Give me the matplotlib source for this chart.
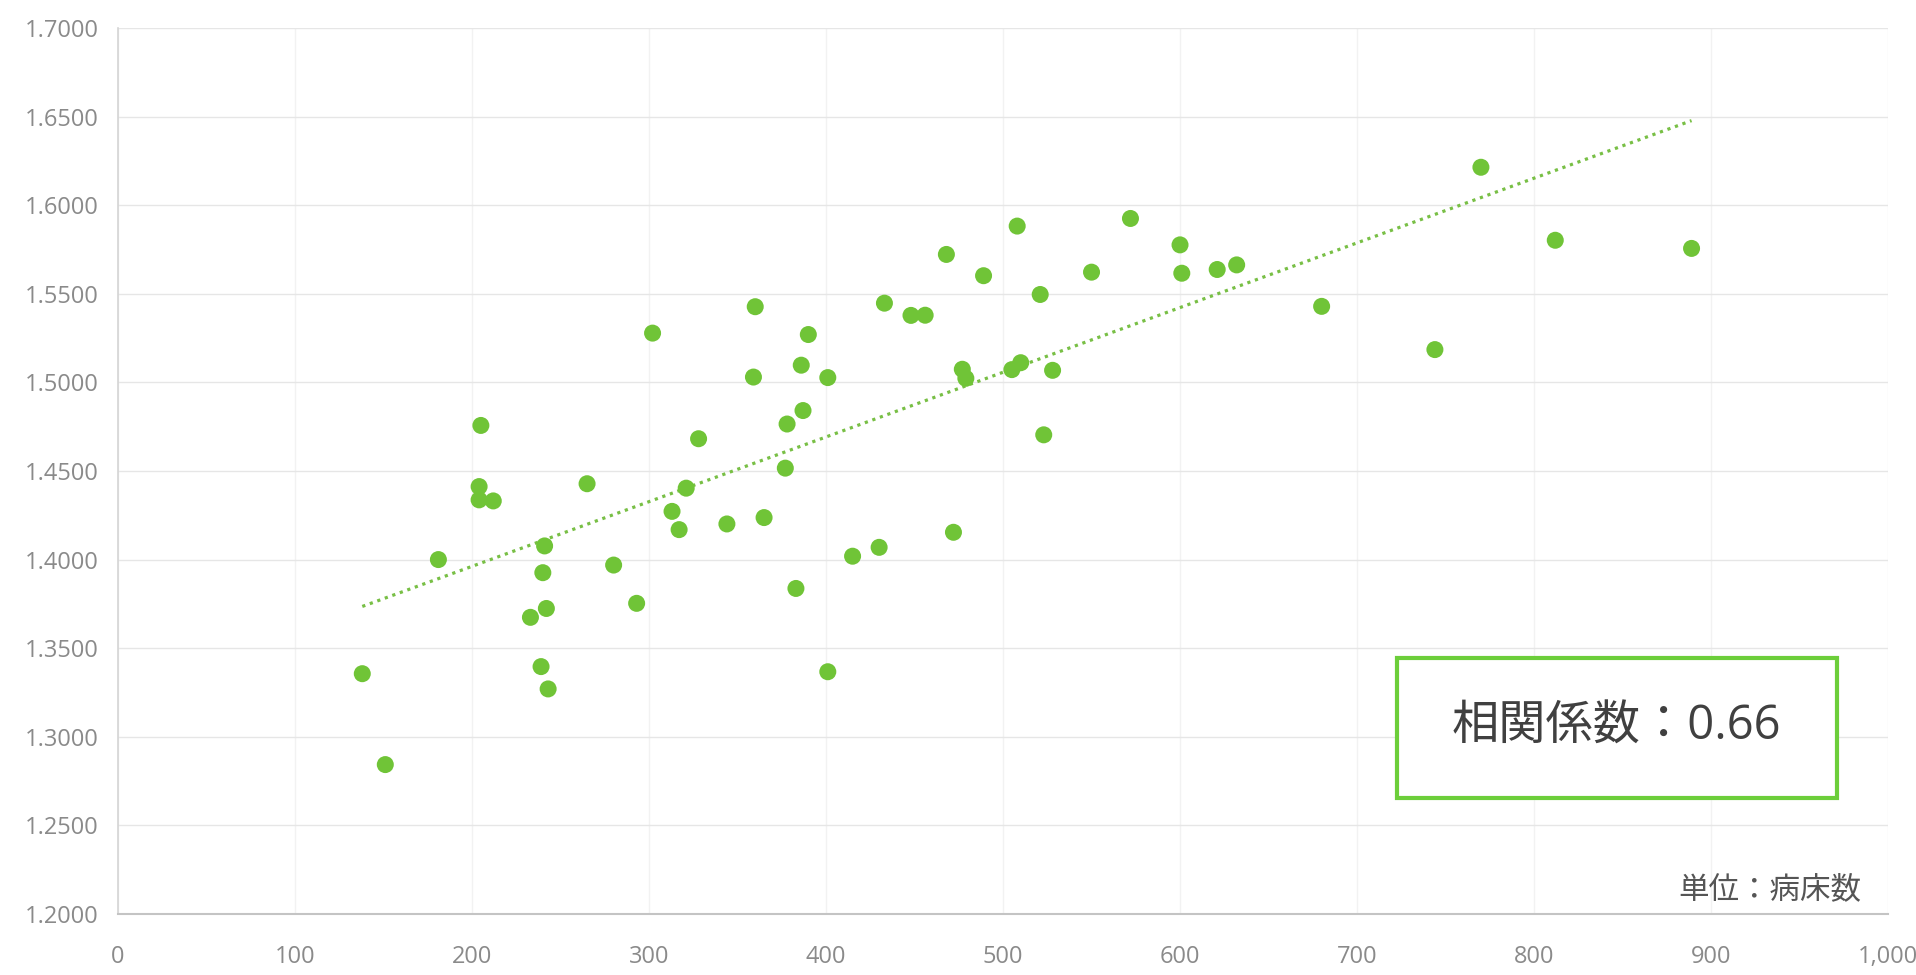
import numpy as np
import matplotlib
matplotlib.use('Agg')
import matplotlib.pyplot as plt
from matplotlib.ticker import FuncFormatter, MultipleLocator
from matplotlib.patches import Rectangle

plt.rcParams['font.family'] = ['Open Sans', 'Noto Sans CJK JP', 'DejaVu Sans']

# 病床数 と 指標値 (読み取り値)
beds = [138, 151, 181, 205, 204, 204, 212, 233, 240, 241,
        242, 239, 243, 265, 280, 293, 302, 313, 317, 321,
        328, 344, 360, 359, 365, 377, 378, 383, 386, 387,
        390, 401, 401, 415, 430, 433, 448, 456, 468, 472,
        477, 479, 489, 505, 508, 510, 521, 523, 528, 550,
        572, 600, 601, 621, 632, 680, 744, 770, 812, 889]
ratio = [1.3356, 1.2843, 1.4000, 1.4757, 1.4412, 1.4337, 1.4331, 1.3674, 1.3926, 1.4077,
         1.3724, 1.3396, 1.3270, 1.4428, 1.3969, 1.3753, 1.5278, 1.4272, 1.4169, 1.4403,
         1.4682, 1.4201, 1.5427, 1.5030, 1.4237, 1.4516, 1.4765, 1.3837, 1.5097, 1.4841,
         1.5270, 1.5027, 1.3367, 1.4019, 1.4069, 1.5447, 1.5378, 1.5379, 1.5722, 1.4154,
         1.5074, 1.5023, 1.5602, 1.5072, 1.5882, 1.5111, 1.5496, 1.4704, 1.5068, 1.5622,
         1.5925, 1.5776, 1.5616, 1.5637, 1.5663, 1.5429, 1.5185, 1.6214, 1.5802, 1.5756]

corr_text = '相関係数：0.66'
unit_text = '単位：病床数'

green = '#70c437'

fig = plt.figure(figsize=(19.16, 9.75), dpi=100)
fig.patch.set_facecolor('white')
ax = fig.add_axes([0.0616, 0.0626, 0.9238, 0.9087])

ax.scatter(beds, ratio, s=150, color=green, edgecolors='none', zorder=3)

# 近似直線
slope, icpt = np.polyfit(beds, ratio, 1)
xs = np.array([min(beds), max(beds)])
ax.plot(xs, slope * xs + icpt, color='#78bf45', lw=2.3,
        linestyle=(0, (1, 1.5)), zorder=2)

ax.set_xlim(0, 1000)
ax.set_ylim(1.2, 1.7)
ax.xaxis.set_major_locator(MultipleLocator(100))
ax.yaxis.set_major_locator(MultipleLocator(0.05))
ax.xaxis.set_major_formatter(FuncFormatter(lambda v, p: f'{v:,.0f}'))
ax.yaxis.set_major_formatter(FuncFormatter(lambda v, p: f'{v:.4f}'))

ax.grid(axis='y', color='#e6e6e6', lw=1.0)
ax.grid(axis='x', color='#f2f2f2', lw=1.0)
ax.set_axisbelow(True)
for s in ['top', 'right']:
    ax.spines[s].set_visible(False)
ax.spines['left'].set_color('#d4d4d4')
ax.spines['bottom'].set_color('#c4c4c4')
ax.spines['left'].set_linewidth(1.2)
ax.spines['bottom'].set_linewidth(1.5)
ax.tick_params(axis='both', length=0, labelsize=17, colors='#8a8a8a')
ax.tick_params(axis='y', pad=14)
ax.tick_params(axis='x', pad=22)

# 相関係数の枠
fig.patches.append(Rectangle((0.7291, 0.1815), 0.2296, 0.1436,
                             transform=fig.transFigure, facecolor='white',
                             edgecolor='#6cce3a', lw=3, zorder=5))
fig.text(0.8435, 0.2545, corr_text, fontsize=34, color='#404040',
         ha='center', va='center', zorder=6)
fig.text(0.9713, 0.0872, unit_text, fontsize=22, color='#555555',
         ha='right', va='center')

fig.savefig('out.png', dpi=100, facecolor='white')
